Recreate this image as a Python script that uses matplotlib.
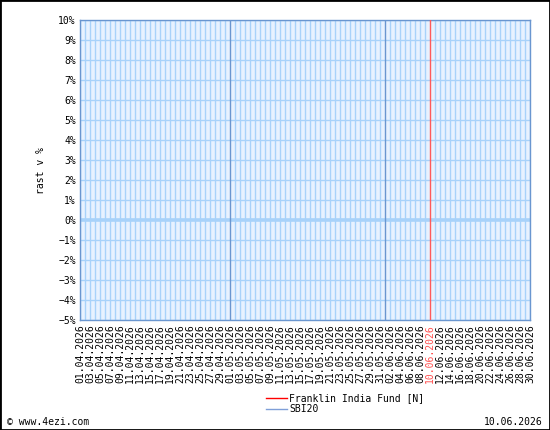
import matplotlib
matplotlib.use("Agg")
import matplotlib.pyplot as plt
import pandas as pd
from matplotlib.patches import Rectangle

# Data
dates = pd.date_range("2026-04-01", "2026-06-30", freq="D")
date_labels = [d.strftime("%d.%m.%Y") for d in dates]
month_starts = ["01.05.2026", "01.06.2026"]
marker_date = "10.06.2026"
series_names = ["Franklin India Fund [N]", "SBI20"]
series_colors = ["#ff0000", "#7f9fd8"]
fund_values = []   # no visible data
sbi_values = []
y_ticks = list(range(-5, 11))
footer_left = "© www.4ezi.com"
footer_right = "10.06.2026"

mono = "DejaVu Sans Mono"
plt.rcParams["font.family"] = mono

fig = plt.figure(figsize=(5.5, 4.3), dpi=100)
ax = fig.add_axes([80/550, 110/430, 450/550, 300/430])
ax.set_facecolor("#e8f2ff")

x = list(range(len(dates)))
ax.set_xlim(0, len(dates) - 1)
ax.set_ylim(-5, 10)

grid_c = "#a8d2fa"
for i in x:
    lab = date_labels[i]
    if lab == marker_date:
        ax.axvline(i, color="#ff5a5a", lw=1.0, zorder=3)
    elif lab in month_starts:
        ax.axvline(i, color="#6a96d0", lw=1.0, zorder=2)
    else:
        ax.axvline(i, color=grid_c, lw=1.0, zorder=1)
for yv in y_ticks:
    ax.axhline(yv, color=grid_c, lw=1.0 if yv != 0 else 2.6, zorder=1)

ax.plot(x[:len(fund_values)], fund_values, color=series_colors[0], lw=1)
ax.plot(x[:len(sbi_values)], sbi_values, color=series_colors[1], lw=1)

ax.set_yticks(y_ticks)
ax.set_yticklabels([f"{v}%".replace("-", "\u2212") for v in y_ticks], fontsize=7)
tick_idx = x[::2]
ax.set_xticks(tick_idx)
ax.set_xticklabels([date_labels[i] for i in tick_idx], rotation=90, fontsize=7)
for t, i in zip(ax.get_xticklabels(), tick_idx):
    if date_labels[i] == marker_date:
        t.set_color("#ff5050")
ax.tick_params(length=0, pad=3)
for s in ax.spines.values():
    s.set_color("#6a96d0")
    s.set_linewidth(1.0)

ax.set_ylabel("rast v %", fontsize=7, labelpad=8.5)

# Legend
for k, (name, col) in enumerate(zip(series_names, series_colors)):
    yy = 1 - (398 + 11 * k) / 430
    fig.add_artist(plt.Line2D([266/550, 287/550], [yy, yy], color=col, lw=1))
    fig.text(289/550, yy, name, fontsize=7, va="center", ha="left")

fig.text(7/550, 1 - 422/430, footer_left, fontsize=7, va="center", ha="left")
fig.text(543/550, 1 - 422/430, footer_right, fontsize=7, va="center", ha="right")

fig.add_artist(Rectangle((0, 0), 1, 1, transform=fig.transFigure, fill=False,
                         edgecolor="black", lw=2))

fig.savefig("out.png", dpi=100)
